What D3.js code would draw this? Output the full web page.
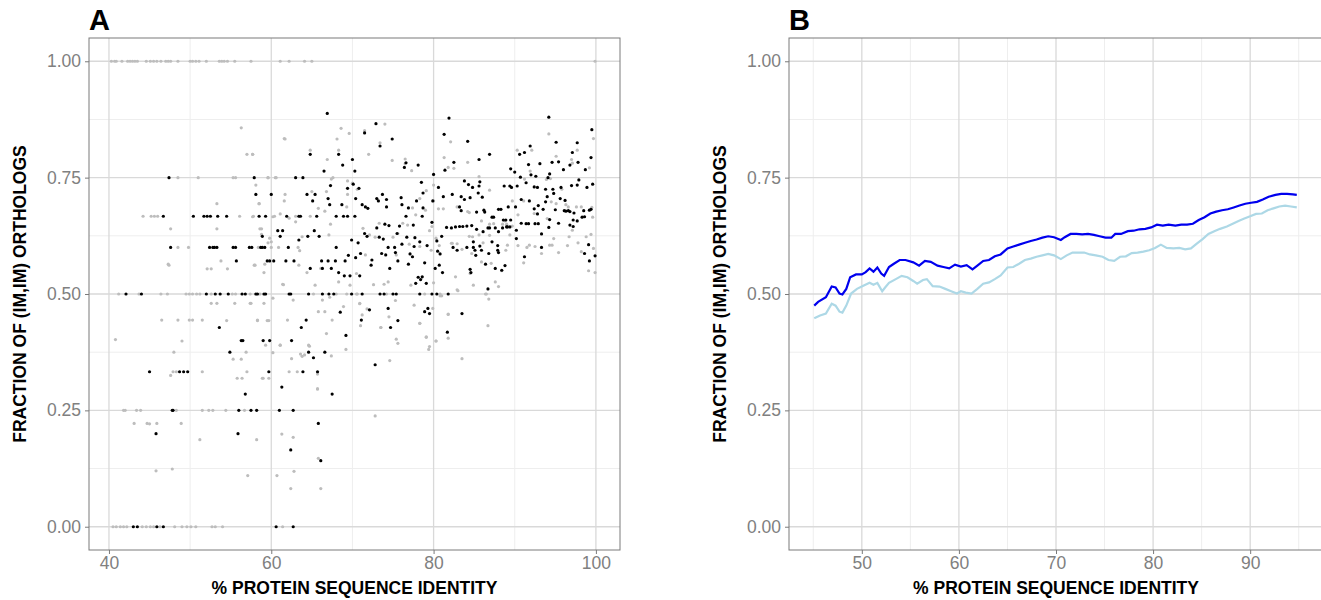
<!DOCTYPE html>
<html>
<head>
<meta charset="utf-8">
<script src="https://cdn.jsdelivr.net/npm/d3@7"></script>
<style>
  body { margin: 0; background: #fff; }
  text { font-family: "Liberation Sans", Arial, Helvetica, sans-serif; }
</style>
</head>
<body>
<svg id="chart" width="1321" height="600"></svg>
<script>
// Panel A: grey points (all pairs) and black points (subset), [identity %, fraction]
const grayPoints = [
  [40.3,1],[40.7,1],[40.9,1],[41.6,1],[42.3,1],[42.6,1],[42.9,1],[43.2,1],[43.5,1],[44.6,1],[45.1,1],[45.5,1],[45.9,1],[46.4,1],
  [47.0,1],[47.3,1],[47.6,1],[48.5,1],[50.0,1],[50.3,1],[50.7,1],[51.1,1],[52.0,1],[53.6,1],[53.9,1],[54.2,1],[54.6,1],[55.5,1],
  [57.5,1],[61.1,1],[62.2,1],[64.1,1],[65.0,1],[99.9,1],
  [40.5,0],[40.9,0],[41.4,0],[41.8,0],[42.2,0],[44.1,0],[44.6,0],[45.1,0],[45.5,0],[46.3,0],[48.1,0],[49.0,0],[49.6,0],[50.1,0],
  [50.7,0],[52.7,0],[53.1,0],[54.0,0],[61.4,0],
  [41.2,0.5],[43.7,0.5],[46.4,0.5],[47.2,0.5],[49.5,0.5],[49.9,0.5],[50.3,0.5],[50.8,0.5],[51.2,0.5],[52.6,0.5],[55.2,0.5],[55.6,0.5],
  [57.4,0.5],[58.6,0.5],[65.2,0.5],[68.0,0.5],[69.3,0.5],[70.5,0.5],[74.2,0.5],[78.9,0.5],[80.8,0.5],[86.4,0.5],
  [47.6,0.64],[53.3,0.694],[53.3,0.64],[53.8,0.571],[47.4,0.562],[52.1,0.554],[52.6,0.554],[54.6,0.554],[56.3,0.857],[57.0,0.8],
  [57.7,0.8],[58.5,0.694],[58.6,0.64],[58.8,0.628],[59.1,0.546],[57.9,0.562],[60.0,0.612],[61.4,0.521],[61.6,0.834],
  [44.2,0.667],[45.2,0.667],[45.6,0.667],[46.0,0.667],[56.1,0.667],[57.8,0.667],[60.4,0.667],[63.0,0.667],[64.8,0.667],
  [48.5,0.75],[51.0,0.75],[55.3,0.75],[55.6,0.75],[59.6,0.75],[60.6,0.75],
  [48.5,0.6],[49.8,0.6],[58.4,0.6],[60.0,0.6],[60.9,0.6],
  [40.8,0.402],[47.6,0.325],[43.1,0.222],[44.7,0.222],[45.9,0.222],[48.9,0.222],[41.8,0.25],[43.4,0.25],[43.9,0.25],[46.5,0.444],
  [48.5,0.444],[49.9,0.444],[50.3,0.444],[47.3,0.564],[51.5,0.444],[51.2,0.187],
  [49.0,0.399],[48.0,0.375],[54.5,0.443],[58.3,0.443],[59.5,0.443],[59.7,0.443],[53.3,0.48],[52.6,0.48],[55.5,0.48],[57.5,0.48],
  [59.1,0.48],[56.9,0.375],[56.3,0.36],[55.3,0.36],[47.9,0.333],[48.3,0.333],[51.5,0.333],[57.0,0.333],[55.8,0.319],[56.4,0.319],
  [58.9,0.319],[59.7,0.319],[61.1,0.39],[62.2,0.333],[63.2,0.333],[64.6,0.39],[65.7,0.328],[65.7,0.296],[42.0,0.25],[48.3,0.25],
  [51.5,0.25],[52.3,0.25],[52.8,0.25],[54.4,0.25],[56.7,0.25],[45.0,0.221],[58.2,0.187],[45.8,0.12],[47.8,0.124],[57.1,0.11],
  [60.7,0.11],[62.8,0.119],[62.4,0.082],[66.1,0.082],[62.7,0.192],[61.3,0.199],[65.8,0.147],
  [58.0,0.562],[59.2,0.564],[61.5,0.52],[63.5,0.593],[63.4,0.562],[64.4,0.546],[65.4,0.519],[66.1,0.555],[66.3,0.487],[67.2,0.493],
  [68.3,0.526],[69.7,0.519],[70.5,0.544],[70.6,0.5],[70.9,0.479],[71.6,0.584],[71.8,0.468],[72.6,0.52],[73.5,0.428],[73.9,0.521],
  [74.5,0.451],[75.4,0.403],[75.6,0.394],[74.6,0.357],[75.3,0.486],[77.6,0.476],[78.3,0.437],[79.1,0.408],[79.5,0.387],[67.5,0.444],
  [66.8,0.415],[65.8,0.462],[62.7,0.487],[62.0,0.444],[58.3,0.444],[57.4,0.48],[60.2,0.491],[59.3,0.39],[61.1,0.39],[60.2,0.374],
  [63.6,0.371],[63.8,0.366],[64.1,0.369],[67.4,0.367],[64.7,0.388],[62.5,0.361],[65.7,0.296],[59.0,0.319],[69.2,0.381],[66.6,0.462],
  [71.2,0.455],[74.4,0.526],[78.3,0.602],[75.4,0.584],
  [57.7,0.8],[61.7,0.833],[64.8,0.809],[68.6,0.856],[69.6,0.845],[71.5,0.851],[74.0,0.865],[73.4,0.825],[68.1,0.833],[66.9,0.789],
  [68.3,0.809],[72.0,0.8],[74.9,0.787],[76.5,0.79],[76.5,0.78],[77.3,0.765],[59.6,0.75],[60.5,0.75],[67.4,0.747],[67.6,0.75],
  [65.0,0.72],[61.7,0.714],[58.1,0.734],[58.5,0.694],[61.6,0.7],[66.8,0.72],[69.4,0.743],[70.0,0.738],[70.6,0.725],[69.4,0.714],
  [65.8,0.684],[66.6,0.678],[69.3,0.687],[67.3,0.65],[63.0,0.655],[61.1,0.672],[62.2,0.663],[60.2,0.666],[57.7,0.666],[58.8,0.64],
  [59.6,0.61],[59.8,0.62],[63.3,0.6],[63.8,0.623],[67.1,0.627],[71.3,0.641],[72.1,0.627],[73.3,0.652],[72.8,0.622],[75.0,0.622],
  [76.2,0.652],[76.8,0.648],[77.4,0.685],[77.8,0.67],[78.3,0.705],[79.0,0.68],[79.1,0.722],[79.5,0.636],[77.0,0.607],[75.6,0.63],
  [82.1,0.827],[94.2,0.844],[99.7,0.834],[81.3,0.793],[84.2,0.783],[85.6,0.752],[90.3,0.809],[92.1,0.809],[95.1,0.796],[97.7,0.809],
  [82.5,0.77],[81.8,0.772],[86.9,0.723],[91.9,0.764],[91.2,0.747],[93.9,0.746],[94.4,0.748],[95.8,0.725],[97.0,0.789],[97.1,0.781],
  [99.2,0.771],[80.0,0.734],[80.6,0.683],[81.2,0.683],[82.9,0.687],[84.2,0.677],[84.4,0.675],[85.9,0.657],[86.9,0.65],[87.4,0.651],
  [88.8,0.657],[89.0,0.65],[90.4,0.67],[89.7,0.7],[91.1,0.7],[92.4,0.673],[94.0,0.662],[94.5,0.698],[95.1,0.694],[96.3,0.692],
  [96.6,0.687],[97.6,0.687],[98.2,0.687],[99.5,0.686],[99.6,0.665],[94.8,0.619],[96.7,0.623],[97.1,0.637],[98.8,0.623],[99.4,0.628],
  [89.4,0.627],[86.9,0.626],[85.6,0.627],[86.1,0.61],[84.4,0.624],[84.8,0.623],[82.3,0.609],[82.9,0.608],[80.7,0.604],[80.3,0.62],
  [99.7,0.598],[79.8,0.645],[89.1,0.605],[90.4,0.604],[91.8,0.605],[94.6,0.605],[96.5,0.604],[97.8,0.61],[88.5,0.65],[89.0,0.647],
  [89.7,0.646],[80.0,0.7],
  [79.7,0.594],[82.2,0.609],[83.5,0.596],[84.7,0.587],[85.9,0.569],[84.5,0.544],[84.9,0.519],[87.1,0.566],[87.6,0.526],[88.0,0.516],
  [88.4,0.55],[88.9,0.594],[91.5,0.6],[92.5,0.602],[93.3,0.587],[94.3,0.605],[95.4,0.589],[98.2,0.591],[99.1,0.55],[99.9,0.546],
  [91.1,0.567],[86.5,0.5],[86.8,0.489],[81.8,0.457],[81.8,0.405],[80.3,0.399],[86.7,0.432],[83.5,0.361],[79.9,0.469],[80.0,0.524],
  [82.7,0.537],[83.0,0.507],[81.0,0.496],
  [68.9,0.473],[70.9,0.48],[71.0,0.432],[73.5,0.428],[72.8,0.238],[78.3,0.437],[79.1,0.407],[79.4,0.381],[80.3,0.399],[81.8,0.456],
  [82.9,0.509],[80.8,0.496],[77.2,0.519]
];

const blackPoints = [
  [43.0,0],[43.5,0],[45.9,0],[46.7,0],[60.6,0],[62.7,0],
  [42.1,0.5],[44.0,0.5],[47.4,0.75],[47.6,0.6],[46.7,0.667],[45.0,0.333],[48.7,0.333],[49.2,0.333],[49.7,0.333],[47.8,0.25],
  [47.9,0.25],[45.8,0.2],
  [50.4,0.667],[51.7,0.667],[52.1,0.667],[52.5,0.667],[53.4,0.667],[54.5,0.667],
  [52.4,0.6],[52.8,0.6],[53.0,0.6],[53.3,0.6],[55.3,0.6],[55.6,0.6],[57.3,0.6],[57.6,0.6],[58.7,0.6],[58.9,0.6],[59.2,0.6],[62.1,0.6],
  [55.7,0.571],[59.5,0.571],[59.8,0.571],[60.3,0.571],[61.8,0.571],[62.8,0.571],
  [52.0,0.5],[53.1,0.5],[53.7,0.5],[54.7,0.5],[56.4,0.5],[56.8,0.5],[58.1,0.5],[58.3,0.5],[59.1,0.5],[59.3,0.5],[62.2,0.5],[62.4,0.5],
  [64.6,0.5],[66.3,0.5],[67.1,0.5],[67.7,0.5],
  [53.6,0.428],[56.3,0.4],[56.5,0.4],[59.0,0.4],[59.8,0.4],[62.5,0.4],[54.9,0.375],[63.7,0.428],[64.3,0.444],[64.6,0.375],
  [65.2,0.363],[66.6,0.375],[68.5,0.461],[69.2,0.411],
  [59.7,0.333],[63.9,0.333],[65.7,0.333],[67.5,0.285],[56.8,0.285],[61.3,0.3],
  [56.0,0.25],[57.5,0.25],[58.2,0.25],[61.0,0.25],[62.7,0.25],[55.9,0.2],[62.4,0.165],[65.8,0.222],[66.1,0.142],
  [57.9,0.75],[63.0,0.75],[63.9,0.75],[58.1,0.714],[60.0,0.714],
  [58.5,0.667],[59.3,0.667],[61.9,0.667],[63.4,0.667],[63.6,0.667],[65.6,0.667],[68.0,0.667],[68.9,0.667],[69.4,0.667],[70.3,0.667],
  [60.8,0.636],[61.4,0.636],[61.1,0.624],[58.9,0.624],[63.4,0.616],[64.5,0.624],[65.3,0.636],[65.9,0.624],[69.9,0.616],[70.7,0.61],
  [71.5,0.63],[71.8,0.624],[73.0,0.642],[73.3,0.622],[73.8,0.618],[74.0,0.65],[74.5,0.647],[75.5,0.63],[75.8,0.646],[76.6,0.667],
  [76.7,0.622],[77.5,0.648],[77.7,0.621],[78.6,0.667],[78.3,0.612],[79.2,0.604],
  [68.0,0.6],[74.4,0.6],[75.2,0.6],[76.1,0.607],[77.6,0.602],
  [66.9,0.888],[72.9,0.866],[71.5,0.846],[74.9,0.833],[73.4,0.818],[64.8,0.8],[68.3,0.8],[68.8,0.777],[70.0,0.789],[70.3,0.764],
  [66.5,0.764],[76.6,0.782],[76.4,0.772],[78.1,0.777],[78.5,0.74],
  [67.3,0.733],[70.1,0.736],[69.4,0.727],[70.8,0.727],[70.4,0.705],[64.4,0.714],[65.4,0.714],[65.1,0.7],[67.0,0.705],[67.2,0.692],
  [68.7,0.692],[71.2,0.692],[71.6,0.687],[71.9,0.684],[73.0,0.705],[73.2,0.7],[73.7,0.714],[74.2,0.703],[74.2,0.687],[76.0,0.707],
  [76.1,0.692],[76.9,0.685],[77.9,0.7],[78.7,0.717],[78.7,0.685],
  [64.8,0.555],[66.3,0.555],[67.4,0.555],[67.9,0.571],[69.1,0.571],[66.2,0.571],[67.0,0.571],[68.3,0.546],[69.0,0.539],[69.7,0.539],
  [69.5,0.583],[70.4,0.578],[70.9,0.539],[71.0,0.587],[72.4,0.573],[72.3,0.562],[73.6,0.587],[74.1,0.584],[74.6,0.555],
  [75.3,0.589],[75.6,0.571],[77.1,0.586],[77.4,0.58],[76.9,0.564],[78.1,0.536],[78.4,0.531],[77.8,0.523],[78.6,0.537],[78.9,0.567],
  [69.9,0.5],[71.2,0.5],[73.4,0.5],[73.9,0.5],[75.0,0.5],[75.4,0.5],[78.3,0.5],[79.8,0.5],[80.4,0.5],[81.8,0.5],
  [72.1,0.466],[71.1,0.444],[74.4,0.469],[74.7,0.428],[75.6,0.443],[72.8,0.348],[78.9,0.462],[79.3,0.469],[79.5,0.458],
  [79.1,0.523],[86.7,0.511],[81.7,0.418],[83.5,0.458],
  [81.9,0.878],[94.2,0.88],[81.3,0.843],[84.2,0.828],[99.5,0.853],[86.9,0.8],[91.9,0.818],[91.2,0.804],[90.6,0.8],[85.6,0.789],
  [95.1,0.826],[97.7,0.825],[97.1,0.804],[82.5,0.783],[81.4,0.766],[80.0,0.757],[89.5,0.769],[93.1,0.78],[94.6,0.783],[95.4,0.784],
  [97.8,0.783],[99.4,0.793],[91.7,0.778],[90.0,0.762],[96.0,0.767],[96.8,0.777],[98.7,0.767],[90.7,0.751],[92.0,0.756],[92.6,0.753],
  [94.1,0.75],[94.3,0.758],[97.9,0.745],[99.6,0.736],[83.8,0.743],[84.3,0.735],[84.8,0.729],[85.7,0.741],[85.6,0.732],[80.6,0.729],
  [79.9,0.7],[81.2,0.709],[82.3,0.714],[83.4,0.709],[83.8,0.703],[84.5,0.707],[85.5,0.717],[86.0,0.708],[88.7,0.732],[89.4,0.732],
  [89.6,0.729],[90.3,0.732],[91.4,0.739],[92.4,0.73],[92.8,0.729],[93.8,0.725],[94.7,0.725],[94.8,0.716],[95.7,0.729],[97.0,0.733],
  [97.7,0.734],[98.9,0.729],
  [83.2,0.687],[83.4,0.679],[85.3,0.676],[86.2,0.68],[86.3,0.676],[87.2,0.665],[87.4,0.665],[88.0,0.682],[88.3,0.682],[88.6,0.659],
  [88.9,0.659],[89.2,0.687],[90.1,0.687],[90.8,0.703],[91.8,0.7],[92.4,0.683],[92.9,0.69],[93.8,0.698],[94.0,0.709],[93.5,0.682],
  [95.0,0.681],[94.3,0.66],[95.6,0.705],[96.2,0.701],[96.1,0.679],[96.3,0.678],[96.6,0.679],[96.8,0.677],[97.3,0.674],[97.2,0.659],
  [98.3,0.665],[98.5,0.679],[99.2,0.68],[99.4,0.682],
  [79.8,0.654],[81.6,0.643],[82.2,0.642],[82.7,0.644],[83.2,0.645],[83.6,0.645],[84.1,0.646],[84.7,0.647],[81.0,0.624],[85.3,0.639],
  [86.1,0.634],[86.7,0.642],[86.9,0.642],[87.6,0.642],[88.0,0.634],[88.5,0.642],[89.0,0.644],[89.1,0.644],[89.4,0.644],[89.5,0.659],
  [90.2,0.637],[90.8,0.652],[91.4,0.651],[91.7,0.651],[92.5,0.651],[92.9,0.651],[92.8,0.672],[93.3,0.629],[94.2,0.643],[95.4,0.652],
  [96.8,0.648],[97.2,0.645],[97.7,0.657],[98.6,0.666],[99.1,0.606],[90.2,0.619],[80.4,0.614],[84.1,0.6],[84.9,0.6],[85.7,0.603],
  [87.9,0.604],[93.3,0.6],
  [82.4,0.6],[82.9,0.594],[85.1,0.594],[84.9,0.612],[85.9,0.594],[86.8,0.587],[87.2,0.612],[87.9,0.594],[88.0,0.589],[80.8,0.586],
  [80.5,0.592],[85.2,0.583],[80.7,0.562],[80.2,0.555],[81.1,0.546],[84.6,0.546],[84.5,0.553],[86.4,0.564],[87.6,0.555],[88.4,0.551],
  [88.8,0.561],[91.2,0.58],[98.6,0.587],[99.2,0.571],[99.9,0.582]
];

// Panel B: sliding-window fraction, [identity %, fraction]
const darkLine = [
  [45.1,0.475],[45.5,0.483],[46.3,0.493],[46.9,0.516],[47.3,0.514],[47.7,0.501],[48.0,0.499],[48.4,0.511],[48.8,0.536],[49.4,0.542],
  [50.0,0.542],[50.4,0.547],[50.8,0.555],[51.2,0.548],[51.6,0.557],[52.0,0.544],[52.3,0.539],[52.8,0.558],[53.3,0.565],[53.9,0.573],
  [54.5,0.573],[55.3,0.568],[55.9,0.561],[56.5,0.571],[57.1,0.569],[57.8,0.561],[58.4,0.558],[59.0,0.555],[59.6,0.563],[60.2,0.559],
  [60.8,0.562],[61.4,0.553],[61.9,0.561],[62.5,0.571],[63.1,0.573],[63.7,0.581],[64.3,0.585],[65.0,0.598],[65.6,0.602],[66.2,0.606],
  [66.8,0.61],[67.4,0.614],[68.0,0.617],[68.6,0.621],[69.2,0.624],[69.8,0.622],[70.5,0.616],[70.9,0.622],[71.5,0.629],[72.1,0.629],
  [72.7,0.628],[73.3,0.629],[73.9,0.627],[74.5,0.624],[75.1,0.621],[75.7,0.621],[76.1,0.629],[76.7,0.629],[77.4,0.635],[78.0,0.636],
  [78.6,0.639],[79.2,0.64],[79.8,0.643],[80.4,0.649],[81.0,0.647],[81.6,0.649],[82.3,0.647],[82.9,0.649],[83.5,0.649],[84.1,0.651],
  [84.7,0.659],[85.3,0.665],[85.9,0.673],[86.5,0.677],[87.1,0.68],[87.7,0.682],[88.3,0.686],[88.9,0.69],[89.5,0.694],[90.1,0.696],
  [90.7,0.698],[91.3,0.703],[91.9,0.709],[92.6,0.713],[93.2,0.715],[93.8,0.715],[94.4,0.714],[94.8,0.713]
];
const lightLine = [
  [45.1,0.448],[45.7,0.454],[46.3,0.458],[46.9,0.479],[47.3,0.475],[47.7,0.462],[48.0,0.46],[48.4,0.475],[48.9,0.501],[49.5,0.511],
  [50.1,0.517],[50.8,0.524],[51.2,0.52],[51.6,0.524],[52.1,0.506],[52.4,0.514],[52.8,0.524],[53.5,0.532],[54.1,0.539],[54.7,0.536],
  [55.3,0.528],[55.7,0.522],[56.3,0.53],[56.7,0.532],[57.3,0.517],[58.0,0.516],[58.6,0.511],[59.2,0.506],[59.8,0.501],[60.2,0.506],
  [60.7,0.503],[61.3,0.501],[61.9,0.511],[62.5,0.522],[63.1,0.525],[63.7,0.532],[64.3,0.54],[65.0,0.557],[65.6,0.558],[66.2,0.565],
  [66.8,0.573],[67.4,0.576],[68.0,0.58],[68.6,0.583],[69.2,0.586],[69.8,0.583],[70.5,0.575],[71.1,0.583],[71.7,0.589],[72.3,0.589],
  [72.9,0.589],[73.5,0.585],[74.1,0.583],[74.8,0.58],[75.4,0.573],[76.0,0.571],[76.6,0.58],[77.2,0.581],[77.8,0.588],[78.4,0.589],
  [79.0,0.591],[79.6,0.594],[80.2,0.599],[80.8,0.606],[81.4,0.599],[82.1,0.598],[82.7,0.599],[83.3,0.596],[83.9,0.598],[84.5,0.608],
  [85.1,0.618],[85.7,0.629],[86.3,0.635],[86.9,0.64],[87.6,0.645],[88.2,0.651],[88.8,0.657],[89.4,0.662],[90.0,0.667],[90.6,0.672],
  [91.2,0.673],[91.8,0.68],[92.4,0.684],[93.0,0.688],[93.6,0.69],[94.2,0.688],[94.8,0.686]
];

const yTicks = [0, 0.25, 0.5, 0.75, 1];
const yMinor = [0.125, 0.375, 0.625, 0.875];
const xTicksA = [40, 60, 80, 100];
const xMinorA = [50, 70, 90];
const xTicksB = [50, 60, 70, 80, 90];
const xMinorB = [45, 55, 65, 75, 85, 95];

const svg = d3.select("#chart");
const panelTop = 38, panelBottom = 550;

function drawPanel(cfg) {
  const x = d3.scaleLinear().domain(cfg.xDomain).range([cfg.left, cfg.right]);
  const y = d3.scaleLinear().domain([-0.05, 1.05]).range([panelBottom, panelTop]);
  const g = svg.append("g");

  // clip so that panel B which runs past the window edge stays tidy
  const clipId = "clip" + cfg.tag;
  svg.append("clipPath").attr("id", clipId)
    .append("rect").attr("x", cfg.left).attr("y", panelTop)
    .attr("width", cfg.right - cfg.left).attr("height", panelBottom - panelTop);

  const grid = g.append("g").attr("clip-path", `url(#${clipId})`);
  // minor grid
  grid.selectAll(".vmin").data(cfg.xMinor).enter().append("line")
    .attr("x1", d => x(d)).attr("x2", d => x(d)).attr("y1", panelTop).attr("y2", panelBottom)
    .attr("stroke", "#eeeeee").attr("stroke-width", 1);
  grid.selectAll(".hmin").data(yMinor).enter().append("line")
    .attr("x1", cfg.left).attr("x2", cfg.right).attr("y1", d => y(d)).attr("y2", d => y(d))
    .attr("stroke", "#eeeeee").attr("stroke-width", 1);
  // major grid
  grid.selectAll(".vmaj").data(cfg.xTicks).enter().append("line")
    .attr("x1", d => x(d)).attr("x2", d => x(d)).attr("y1", panelTop).attr("y2", panelBottom)
    .attr("stroke", "#d9d9d9").attr("stroke-width", 1.3);
  grid.selectAll(".hmaj").data(yTicks).enter().append("line")
    .attr("x1", cfg.left).attr("x2", cfg.right).attr("y1", d => y(d)).attr("y2", d => y(d))
    .attr("stroke", "#d9d9d9").attr("stroke-width", 1.3);

  // axes (ticks + labels), domain line removed, border drawn separately
  const xAxis = g.append("g").attr("transform", `translate(0,${panelBottom})`)
    .call(d3.axisBottom(x).tickValues(cfg.xTicks).tickSize(4).tickPadding(3).tickFormat(d3.format("d")));
  const yAxis = g.append("g").attr("transform", `translate(${cfg.left},0)`)
    .call(d3.axisLeft(y).tickValues(yTicks).tickSize(4).tickPadding(4).tickFormat(d3.format(".2f")));
  [xAxis, yAxis].forEach(a => {
    a.select(".domain").remove();
    a.selectAll(".tick line").attr("stroke", "#7a7a7a");
    a.selectAll(".tick text").attr("fill", "#808080").style("font-size", "17.5px")
      .style("font-family", '"Liberation Sans", Arial, sans-serif');
  });

  // border
  g.append("rect").attr("x", cfg.left).attr("y", panelTop)
    .attr("width", cfg.right - cfg.left).attr("height", panelBottom - panelTop)
    .attr("fill", "none").attr("stroke", "#7a7a7a").attr("stroke-width", 1);

  // titles
  g.append("text").attr("x", (cfg.left + cfg.right) / 2)
    .attr("y", 594).attr("text-anchor", "middle")
    .style("font-size", "17.5px").style("font-weight", "bold").attr("fill", "#000")
    .text("% PROTEIN SEQUENCE IDENTITY");
  g.append("text").attr("transform", `translate(${cfg.left - 69},${(panelTop + panelBottom) / 2}) rotate(-90)`)
    .attr("text-anchor", "middle").attr("dy", "0.35em")
    .style("font-size", "17.5px").style("font-weight", "bold").attr("fill", "#000")
    .text("FRACTION OF (IM,IM) ORTHOLOGS");
  g.append("text").attr("x", cfg.left).attr("y", 30)
    .style("font-size", "29px").style("font-weight", "bold").attr("fill", "#000")
    .text(cfg.tag);

  return { x, y, g, clipId };
}

// Panel A
const A = drawPanel({ tag: "A", left: 89, right: 620, xDomain: [37.54, 102.97], xTicks: xTicksA, xMinor: xMinorA });
const ptsA = A.g.append("g").attr("clip-path", `url(#${A.clipId})`);
ptsA.selectAll(".gray").data(grayPoints).enter().append("circle")
  .attr("cx", d => A.x(d[0])).attr("cy", d => A.y(d[1])).attr("r", 1.6).attr("fill", "#bdbdbd");
ptsA.selectAll(".black").data(blackPoints).enter().append("circle")
  .attr("cx", d => A.x(d[0])).attr("cy", d => A.y(d[1])).attr("r", 1.6).attr("fill", "#000");

// Panel B
const B = drawPanel({ tag: "B", left: 789, right: 1323, xDomain: [42.5, 97.5], xTicks: xTicksB, xMinor: xMinorB });
const line = d3.line().x(d => B.x(d[0])).y(d => B.y(d[1]));
const linesB = B.g.append("g").attr("clip-path", `url(#${B.clipId})`);
linesB.append("path").datum(lightLine).attr("d", line)
  .attr("fill", "none").attr("stroke", "#add8e6").attr("stroke-width", 2.2);
linesB.append("path").datum(darkLine).attr("d", line)
  .attr("fill", "none").attr("stroke", "#0000ee").attr("stroke-width", 2.2);
</script>
</body>
</html>
